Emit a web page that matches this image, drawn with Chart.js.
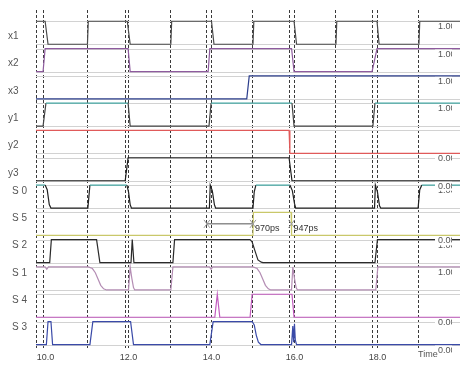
<!DOCTYPE html>
<html>
<head>
<meta charset="utf-8">
<script src="https://cdn.jsdelivr.net/npm/chart.js@4.4.0/dist/chart.umd.min.js"></script>
<style>
  html, body { margin: 0; padding: 0; background: #fff; }
  #wrap { width: 468px; height: 365px; }
</style>
</head>
<body>
<div id="wrap"><canvas id="wave"></canvas></div>
<script>
// ============================================
// TIMING DIAGRAM - signals from top to bottom
// ============================================

const signalNames = ['x1', 'x2', 'x3', 'y1', 'y2', 'y3', 'S 0', 'S 5', 'S 2', 'S 1', 'S 4', 'S 3'];

// [time ns, level]
const x1 = [[9.77,1],[9.99,1],[10.06,0],[11.01,0],[11.03,1],[11.97,1],[12.04,0],[13.02,0],[13.04,1],[14.0,1],[14.06,0],[15.0,0],[15.02,1],[15.99,1],[16.05,0],[17.0,0],[17.02,1],[17.99,1],[18.04,0],[19.0,0],[19.02,1],[20.0,1]];
const x2 = [[9.77,0],[9.94,0],[9.99,1],[11.99,1],[12.04,0],[13.92,0],[13.96,1],[15.93,1],[15.99,0],[17.87,0],[17.99,1],[20.0,1]];
const x3 = [[9.77,0],[14.85,0],[14.91,1],[20.0,1]];
const y1 = [[9.77,0],[9.94,0],[10.01,1],[11.99,1],[12.04,0],[13.94,0],[13.99,1],[15.94,1],[15.99,0],[17.89,0],[17.94,1],[20.0,1]];
const y2 = [[9.77,1],[15.87,1],[15.89,0],[20.0,0]];
const y3 = [[9.77,0],[11.92,0],[11.99,1],[15.87,1],[15.94,0],[20.0,0]];
const s0 = [[9.77,1],[9.99,1],[10.04,0.8],[10.09,0.15],[10.13,0],[11.02,0],[11.07,1],[11.96,1],[12.0,0.7],[12.04,0.15],[12.07,0],[13.95,0],[13.97,1],[14.02,0.75],[14.07,0.15],[14.1,0],[15.0,0],[15.03,0.7],[15.07,1],[15.89,1],[15.95,0.75],[16.0,0.2],[16.03,0],[17.93,0],[17.95,1],[18.0,0.7],[18.05,0.1],[18.08,0],[18.98,0],[19.02,0.8],[19.07,1],[20.0,1]];
const s5 = [[9.77,0],[15.0,0],[15.01,1],[15.92,1],[15.93,0],[20.0,0]];
const s2 = [[9.77,0],[10.1,0],[10.14,1],[11.23,1],[11.31,0],[12.06,0],[12.09,1],[12.13,0],[13.07,0],[13.11,1],[14.93,1],[14.98,0.9],[15.05,0.5],[15.12,0.12],[15.2,0.02],[15.24,0],[17.94,0],[18.0,1],[20.0,1]];
const s1 = [[9.77,1],[9.99,1],[10.03,0.9],[10.07,1],[11.03,1],[11.13,0.93],[11.2,0.75],[11.27,0.45],[11.33,0.2],[11.4,0.05],[11.47,0],[12.0,0],[12.04,1],[12.08,0.5],[12.12,0.1],[12.15,0],[13.02,0],[13.07,1],[13.95,1],[13.99,0.9],[14.03,1],[15.0,1],[15.1,0.93],[15.17,0.75],[15.24,0.45],[15.3,0.2],[15.37,0.05],[15.43,0],[15.93,0],[15.96,1],[16.0,0.5],[16.04,0.1],[16.07,0],[17.96,0],[18.01,1],[20.0,1]];
const s4 = [[9.77,0],[14.08,0],[14.14,1],[14.2,0],[14.93,0],[14.98,1],[15.94,1],[15.99,0],[20.0,0]];
const s3 = [[9.77,0],[10.02,0],[10.06,1],[10.13,1],[10.17,0],[11.07,0],[11.14,1],[12.05,1],[12.12,0],[13.96,0],[14.04,1],[14.98,1],[15.03,0.85],[15.08,0.4],[15.13,0.1],[15.19,0],[15.93,0],[15.96,0.8],[15.98,0.1],[16.0,0.9],[16.02,0.2],[16.05,0],[20.0,0]];

const signals = [x1, x2, x3, y1, y2, y3, s0, s5, s2, s1, s4, s3];

// time axis
const labelTimes = [10, 12, 14, 16, 18];
const gridTimes = [11, 12, 13, 14, 15, 16, 17, 18, 19];
const cursorTimes = [9.77, 9.94, 11.92, 13.89, 15.87, 17.87];

// measurement in the S 5 row
const measureSpan = [13.89, 15.0];
const measureMarks = [13.89, 15.0, 15.93];
const measureTexts = [[15.0, '970ps'], [15.93, '947ps']];

const colors = ['#4a4a4a', '#8e5b9e', '#2c3e8c', '#444444', '#e05a5a', '#1e1e1e', '#222222', '#c9c86a', '#2a2a2a', '#b48db4', '#c25cbf', '#3a4aa8'];
const HIGH_TEAL = '#45a7a3';
const twoTone = { 'y1': true, 'S 0': true };

const ROW_BASE = 0.2, AMP = 0.842;
function yVal(row, lv) {
    return (signalNames.length - 1 - row) + ROW_BASE + lv * AMP;
}

const FONT = '"Liberation Sans", Arial, sans-serif';

const datasets = signals.map((sig, i) => {
    const ds = {
        label: signalNames[i],
        data: sig.map(p => ({ x: p[0], y: yVal(i, p[1]) })),
        borderColor: colors[i],
        borderWidth: 1.2,
        pointRadius: 0,
        tension: 0,
        fill: false
    };
    if (twoTone[signalNames[i]]) {
        ds.segment = {
            borderColor: c => (sig[c.p0DataIndex][1] > 0.98 && sig[c.p1DataIndex][1] > 0.98) ? HIGH_TEAL : colors[i]
        };
    }
    return ds;
});

const waveDecor = {
    id: 'waveDecor',
    beforeDatasetsDraw(chart) {
        const { ctx, chartArea: a, scales: { y } } = chart;
        ctx.save();
        ctx.strokeStyle = '#d2d2d2';
        ctx.lineWidth = 1;
        signalNames.forEach((n, i) => {
            [0, 1].forEach(lv => {
                const py = Math.round(y.getPixelForValue(yVal(i, lv))) + 0.5;
                ctx.beginPath();
                ctx.moveTo(a.left, py);
                ctx.lineTo(a.right, py);
                ctx.stroke();
            });
        });
        ctx.restore();
    },
    afterDatasetsDraw(chart) {
        const { ctx, scales: { x, y } } = chart;
        ctx.save();

        // measurement bar
        const my = y.getPixelForValue(yVal(7, 0.5));
        ctx.strokeStyle = '#555';
        ctx.lineWidth = 1;
        ctx.beginPath();
        ctx.moveTo(x.getPixelForValue(measureSpan[0]), my);
        ctx.lineTo(x.getPixelForValue(measureSpan[1]), my);
        ctx.stroke();
        ctx.strokeStyle = '#999';
        measureMarks.forEach(t => {
            const px = x.getPixelForValue(t);
            ctx.beginPath();
            ctx.moveTo(px - 3, my - 4); ctx.lineTo(px + 3, my + 4);
            ctx.moveTo(px - 3, my + 4); ctx.lineTo(px + 3, my - 4);
            ctx.stroke();
        });
        ctx.fillStyle = '#333';
        ctx.font = '9px ' + FONT;
        ctx.textBaseline = 'middle';
        measureTexts.forEach(([t, s]) => {
            ctx.fillText(s, x.getPixelForValue(t) + 2, my + 5);
        });

        // signal names on the left
        ctx.fillStyle = '#555';
        ctx.font = '10px ' + FONT;
        signalNames.forEach((n, i) => {
            const hy = y.getPixelForValue(yVal(i, 1));
            const small = i < 6;
            ctx.fillText(n, small ? 8 : 12, hy + (small ? 15 : 6));
        });

        // final values on the right
        ctx.beginPath();
        ctx.rect(0, 0, 452, chart.height);
        ctx.clip();
        ctx.font = '9px ' + FONT;
        for (let i = signals.length - 1; i >= 0; i--) {
            const last = signals[i][signals[i].length - 1][1];
            const py = y.getPixelForValue(yVal(i, last));
            ctx.fillStyle = '#fff';
            ctx.fillRect(435, py + 1, 20, 9);
            ctx.fillStyle = '#555';
            ctx.fillText(last.toFixed(2), 438, py + 5.5);
        }
        ctx.fillStyle = '#555';
        ctx.fillText('Time', 418, 355);
        ctx.restore();
    }
};

new Chart(document.getElementById('wave'), {
    type: 'line',
    data: { datasets },
    options: {
        responsive: true,
        maintainAspectRatio: false,
        animation: false,
        layout: { padding: { left: 36, right: 8, top: 10, bottom: 0 } },
        plugins: { legend: { display: false }, tooltip: { enabled: false } },
        scales: {
            x: {
                type: 'linear',
                min: 9.77,
                max: 19.99,
                afterBuildTicks: s => {
                    const all = [...new Set([...cursorTimes, ...labelTimes, ...gridTimes])].sort((a, b) => a - b);
                    s.ticks = all.map(v => ({ value: v }));
                },
                afterFit: s => { s.height = 15; },
                grid: {
                    drawTicks: false,
                    color: c => (c.tick && c.tick.value === 10) ? 'rgba(0,0,0,0)' : '#3a3a3a',
                    lineWidth: 1
                },
                border: { display: false, dash: [3, 2] },
                ticks: {
                    autoSkip: false,
                    maxRotation: 0,
                    padding: 2,
                    color: '#444',
                    font: { size: 9, family: FONT },
                    callback: v => labelTimes.includes(v) ? v.toFixed(1) : ''
                }
            },
            y: {
                display: false,
                min: 0,
                max: 12.454
            }
        }
    },
    plugins: [waveDecor]
});
</script>
</body>
</html>
